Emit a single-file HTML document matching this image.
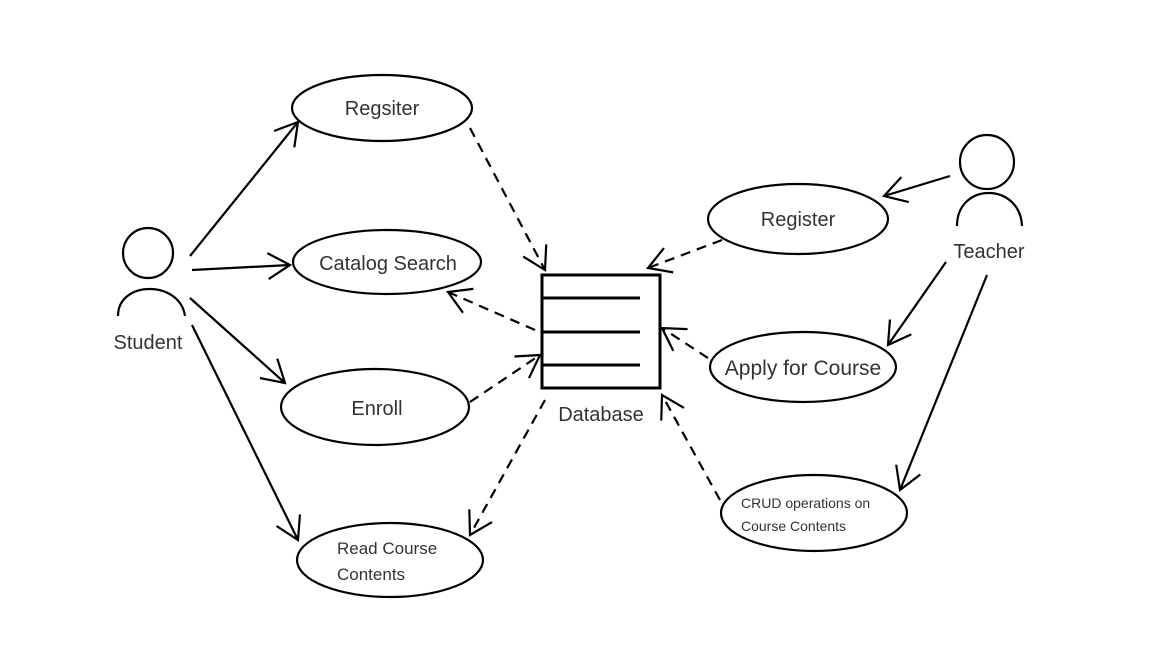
<!DOCTYPE html>
<html><head><meta charset="utf-8"><style>
html,body{margin:0;padding:0;background:#fff;}
svg{display:block;}
text{font-family:"Liberation Sans",sans-serif;fill:#333;}
</style></head><body>
<svg width="1152" height="648" viewBox="0 0 1152 648" xmlns="http://www.w3.org/2000/svg">
<defs>
<marker id="a" markerUnits="userSpaceOnUse" markerWidth="40" markerHeight="40" refX="24" refY="15" orient="auto">
<path d="M2,2 L24,15 L2,28" fill="none" stroke="#000" stroke-width="2.2"/>
</marker>
</defs>
<g fill="none" stroke="#000" stroke-width="2.2">
<!-- Student -->
<circle cx="148" cy="253" r="25"/>
<path d="M118,316 C118,280 180,280 185,316"/>
<!-- Teacher -->
<circle cx="987" cy="162" r="27"/>
<path d="M957,226 C957,182 1020,182 1022,226"/>
<!-- ellipses -->
<ellipse cx="382" cy="108" rx="90" ry="33"/>
<ellipse cx="387" cy="262" rx="94" ry="32"/>
<ellipse cx="375" cy="407" rx="94" ry="38"/>
<ellipse cx="390" cy="560" rx="93" ry="37"/>
<ellipse cx="798" cy="219" rx="90" ry="35"/>
<ellipse cx="803" cy="367" rx="93" ry="35"/>
<ellipse cx="814" cy="513" rx="93" ry="38"/>
<!-- database -->
<rect x="542" y="275" width="118" height="113" stroke-width="3"/>
<line x1="542" y1="298" x2="640" y2="298" stroke-width="3"/>
<line x1="542" y1="332" x2="640" y2="332" stroke-width="3"/>
<line x1="542" y1="365" x2="640" y2="365" stroke-width="3"/>
<!-- solid -->
<line x1="190" y1="256" x2="298" y2="122" marker-end="url(#a)"/>
<line x1="192" y1="270" x2="290" y2="265" marker-end="url(#a)"/>
<line x1="190" y1="298" x2="285" y2="383" marker-end="url(#a)"/>
<line x1="192" y1="325" x2="298" y2="540" marker-end="url(#a)"/>
<line x1="950" y1="176" x2="884" y2="196" marker-end="url(#a)"/>
<line x1="946" y1="262" x2="888" y2="345" marker-end="url(#a)"/>
<line x1="987" y1="275" x2="900" y2="490" marker-end="url(#a)"/>
<!-- dashed -->
<g stroke-dasharray="10,7">
<line x1="470" y1="128" x2="545" y2="270" marker-end="url(#a)"/>
<line x1="535" y1="330" x2="448" y2="292" marker-end="url(#a)"/>
<line x1="470" y1="402" x2="540" y2="355" marker-end="url(#a)"/>
<line x1="545" y1="400" x2="470" y2="535" marker-end="url(#a)"/>
<line x1="722" y1="240" x2="648" y2="268" marker-end="url(#a)"/>
<line x1="708" y1="358" x2="662" y2="328" marker-end="url(#a)"/>
<line x1="720" y1="500" x2="662" y2="395" marker-end="url(#a)"/>
</g>
</g>
<g font-size="20" text-anchor="middle">
<text x="148" y="349">Student</text>
<text x="989" y="258">Teacher</text>
<text x="382" y="115">Regsiter</text>
<text x="388" y="270">Catalog Search</text>
<text x="377" y="415">Enroll</text>
<text x="798" y="226">Register</text>
<text x="803" y="375" font-size="21">Apply for Course</text>
<text x="601" y="421">Database</text>
</g>
<text x="337" y="554" font-size="17">Read Course</text>
<text x="337" y="580" font-size="17">Contents</text>
<text x="741" y="508" font-size="14">CRUD operations on</text>
<text x="741" y="531" font-size="14">Course Contents</text>
</svg>
</body></html>
